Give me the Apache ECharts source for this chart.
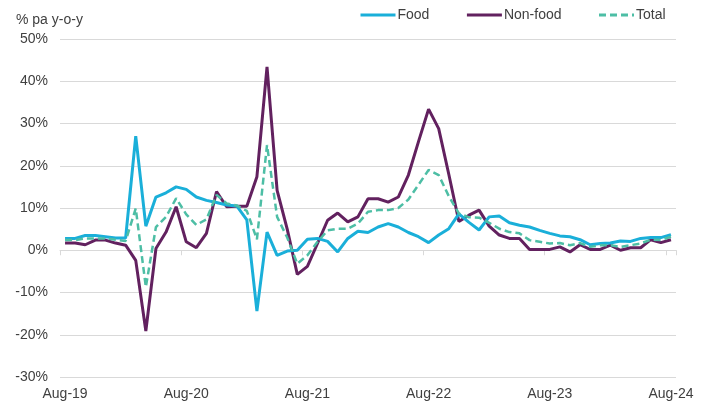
<!DOCTYPE html>
<html>
<head>
<meta charset="utf-8">
<script src="https://cdn.jsdelivr.net/npm/echarts@6/dist/echarts.min.js"></script>
<style>
  html, body { margin: 0; padding: 0; background: #fff; }
  #chart { width: 708px; height: 405px; }
</style>
</head>
<body>
<div id="chart"></div>
<script>
// monthly, Aug-19 .. Aug-24
const months = ["Jan", "Feb", "Mar", "Apr", "May", "Jun", "Jul", "Aug", "Sep", "Oct", "Nov", "Dec"];
const categories = [];
for (let k = 0; k < 61; k++) {
  const m = (7 + k) % 12;
  const y = 19 + Math.floor((7 + k) / 12);
  categories.push(months[m] + "-" + y);
}

const food = [
  2.8, 2.8, 3.5, 3.5, 3.2, 2.9, 2.9, 27.0, 5.7, 12.6,
  13.6, 15.0, 14.4, 12.6, 11.8, 11.3, 10.7, 10.5, 7.2, -14.4,
  4.3, -1.2, -0.2, 0.0, 2.6, 2.8, 2.1, -0.4, 2.8, 4.5,
  4.2, 5.5, 6.3, 5.5, 4.2, 3.2, 1.8, 3.6, 5.1, 8.6,
  6.6, 4.8, 7.9, 8.1, 6.5, 5.9, 5.5, 4.7, 4.0, 3.4,
  3.2, 2.5, 1.3, 1.6, 1.7, 2.2, 2.1, 2.8, 3.0, 3.0,
  3.7
];
const nonFood = [
  1.7, 1.7, 1.3, 2.4, 2.4, 1.7, 1.2, -2.4, -19.1, 0.4,
  4.3, 10.3, 2.0, 0.6, 4.0, 13.9, 10.3, 10.4, 10.4, 17.4,
  43.4, 14.2, 5.0, -5.7, -3.8, 1.6, 7.1, 8.8, 6.7, 7.9,
  12.2, 12.2, 11.4, 12.6, 17.8, 25.7, 33.4, 28.8, 18.0, 6.8,
  8.3, 9.5, 5.7, 3.6, 2.8, 2.8, 0.2, 0.2, 0.2, 0.8,
  -0.4, 1.3, 0.2, 0.2, 1.2, 0.0, 0.6, 0.6, 2.5, 1.8,
  2.5
];
const total = [
  2.4, 2.4, 2.8, 2.8, 2.8, 2.5, 2.2, 9.9, -8.7, 5.5,
  7.9, 12.3, 8.5, 6.0, 7.3, 13.1, 11.1, 10.6, 9.3, 2.6,
  24.9, 7.9, 3.0, -3.2, -1.2, 2.0, 4.7, 5.1, 5.1, 6.3,
  9.1, 9.5, 9.5, 10.0, 12.0, 15.5, 19.0, 17.8, 12.8, 8.7,
  7.8, 7.7, 6.5, 5.1, 4.3, 4.0, 2.4, 2.0, 1.6, 1.7,
  1.2, 1.7, 0.8, 1.2, 1.2, 0.8, 1.2, 1.6, 2.5, 2.4,
  3.2
];

const textColor = "#404040";
const font = "Liberation Sans, Arial, sans-serif";

const chart = echarts.init(document.getElementById("chart"));

chart.setOption({
  animation: false,
  grid: { left: 60, right: 32, top: 39, bottom: 28, containLabel: false },
  graphic: [{
    type: "text",
    left: 16,
    top: 13,
    style: { text: "% pa y-o-y", fill: textColor, fontSize: 14, fontFamily: font }
  }],
  legend: {
    left: 354,
    top: 3,
    itemWidth: 35,
    itemHeight: 14,
    itemGap: 36,
    itemStyle: { opacity: 0 },
    lineStyle: { width: 3 },
    textStyle: { color: textColor, fontSize: 14, fontFamily: font, padding: [0, 0, 0, -3] },
    data: ["Food", "Non-food", "Total"]
  },
  xAxis: [
    {
      type: "category",
      data: categories,
      boundaryGap: true,
      position: "bottom",
      axisLine: { show: false, onZero: false },
      axisTick: { show: false },
      axisLabel: { interval: 11, color: textColor, fontSize: 14, fontFamily: font, margin: 10 },
      splitLine: { show: false }
    },
    {
      type: "category",
      data: categories,
      boundaryGap: true,
      position: "bottom",
      axisLine: { show: true, onZero: true, lineStyle: { color: "#d9d9d9", width: 1 } },
      axisTick: { show: true, interval: 11, length: 5, lineStyle: { color: "#d9d9d9" } },
      axisLabel: { show: false },
      splitLine: { show: false }
    }
  ],
  yAxis: {
    type: "value",
    min: -30,
    max: 50,
    interval: 10,
    axisLine: { show: false },
    axisTick: { show: false },
    axisLabel: { formatter: "{value}%", color: textColor, fontSize: 14, fontFamily: font, margin: 12 },
    splitLine: { lineStyle: { color: "#d9d9d9", width: 1 } }
  },
  series: [
    {
      name: "Food",
      type: "line",
      data: food,
      symbol: "none",
      itemStyle: { color: "#1aafd9" },
      lineStyle: { color: "#1aafd9", width: 3 },
      z: 3
    },
    {
      name: "Non-food",
      type: "line",
      data: nonFood,
      symbol: "none",
      itemStyle: { color: "#62215f" },
      lineStyle: { color: "#62215f", width: 3 },
      z: 2
    },
    {
      name: "Total",
      type: "line",
      data: total,
      symbol: "none",
      itemStyle: { color: "#4dbea5" },
      lineStyle: { color: "#4dbea5", width: 2.5, type: [7, 4] },
      z: 4
    }
  ]
});
</script>
</body>
</html>
